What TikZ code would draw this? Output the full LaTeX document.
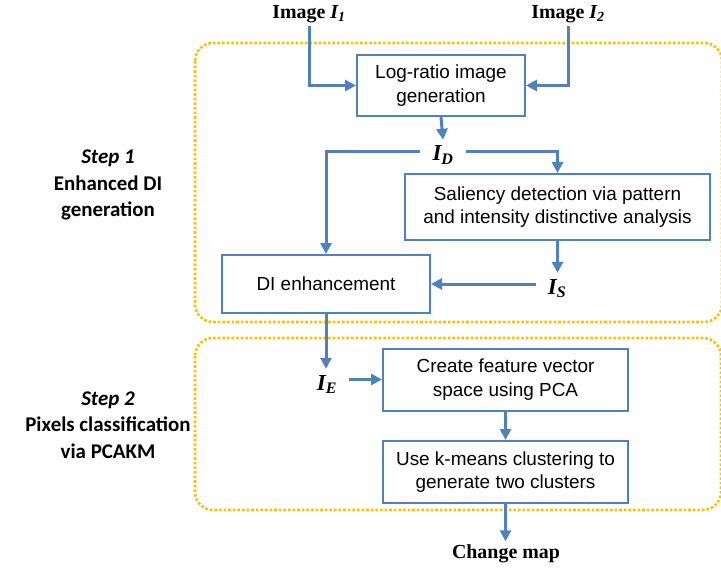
\documentclass[tikz,border=0pt]{standalone}
\usepackage{fontspec}
\setmainfont{Liberation Serif}
\setsansfont{Liberation Sans}
\newfontfamily\stepfont{Carlito}
\usetikzlibrary{arrows.meta}

\definecolor{flowblue}{HTML}{4F81BD}
\definecolor{stepgold}{HTML}{FFC000}

\tikzset{
procbox/.style={draw=flowblue,line width=2bp,fill=white,align=center,
  inner sep=0pt,font=\sffamily\fontsize{19}{23.5}\selectfont},
flow/.style={draw=flowblue,line width=3bp,
  -{Triangle[length=11bp,width=11bp]}},
imglabel/.style={font=\bfseries\fontsize{20}{22}\selectfont},
symlabel/.style={anchor=base,inner xsep=12bp,inner ysep=6bp,
  font=\bfseries\itshape\fontsize{23}{25}\selectfont},
steplabel/.style={align=center,font=\stepfont\bfseries\fontsize{21}{26.5}\selectfont},
stepframe/.style={draw=stepgold,line width=2.6bp,
  dash pattern=on 2.6bp off 2bp,rounded corners=18bp}
}

\begin{document}
\begin{tikzpicture}[x=1bp,y=-1bp]

\useasboundingbox (0,0) rectangle (721,569);

% Step frames
\draw[stepframe] (195,43) rectangle (722,322);
\draw[stepframe] (195,338) rectangle (721,510);

% Step labels
\node[steplabel] (step1) at (108,185) {\textit{Step 1}\\Enhanced DI\\generation};
\node[steplabel] (step2) at (108,425) {\textit{Step 2}\\Pixels classification\\via PCAKM};

% Inputs
\node[imglabel] (img1) at (309,14) {Image \textit{I\textsubscript{1}}};
\node[imglabel] (img2) at (568,14) {Image \textit{I\textsubscript{2}}};

% Boxes
\node[procbox,minimum width=168bp,minimum height=61bp] (logratio) at (441,85.5)
  {Log-ratio image\\generation};
\node[procbox,minimum width=305bp,minimum height=66bp] (saliency) at (557.5,207)
  {Saliency detection via pattern\\and intensity distinctive analysis};
\node[procbox,minimum width=208bp,minimum height=58bp] (dibox) at (326,284)
  {DI enhancement};
\node[procbox,minimum width=245bp,minimum height=62bp] (create) at (505.5,379.5)
  {Create feature vector\\space using PCA};
\node[procbox,minimum width=245bp,minimum height=62bp] (kmeans) at (505.5,472)
  {Use k-means clustering to\\generate two clusters};

% Intermediate images
\node[symlabel] (id) at (443,161) {I\textsubscript{D}};
\node[symlabel] (is) at (557,294) {I\textsubscript{S}};
\node[symlabel] (ie) at (327,390) {I\textsubscript{E}};

% Output
\node[imglabel] (change) at (506,554) {Change map};

% Connectors
\draw[flow] (img1.south) |- (logratio.west);
\draw[flow] (img2.south) |- (logratio.east);
\draw[flow] (logratio.south) -- (id.north);
\draw[flow] ([yshift=4bp]id.west) -| (dibox.north);
\draw[flow] ([yshift=4bp]id.east) -| (saliency.north);
\draw[flow] (saliency.south) -- (is.north -| saliency.south);
\draw[flow] (is.west |- dibox.east) -- (dibox.east);
\draw[flow] (dibox.south) -- (ie.north -| dibox.south);
\draw[flow] (ie.east |- create.west) -- (create.west);
\draw[flow] (create.south) -- (kmeans.north);
\draw[flow] (kmeans.south) -- (change.north -| kmeans.south);

\end{tikzpicture}
\end{document}
